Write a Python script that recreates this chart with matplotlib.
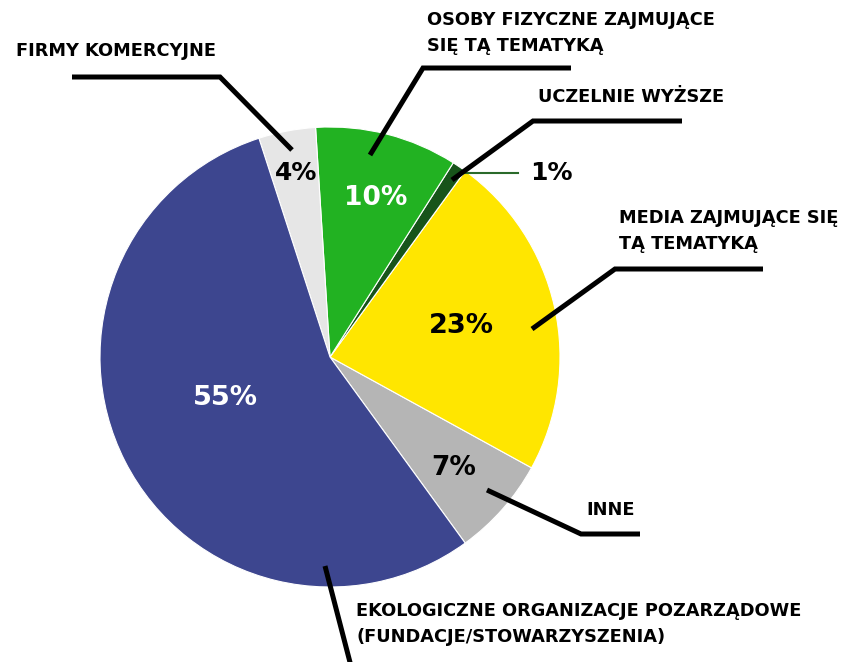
import matplotlib
matplotlib.use("Agg")
import matplotlib.pyplot as plt

# data, in drawing order (counterclockwise from the lower right)
labels = ["INNE", "MEDIA ZAJMUJĄCE SIĘ\nTĄ TEMATYKĄ", "UCZELNIE WYŻSZE",
          "OSOBY FIZYCZNE ZAJMUJĄCE\nSIĘ TĄ TEMATYKĄ", "FIRMY KOMERCYJNE",
          "EKOLOGICZNE ORGANIZACJE POZARZĄDOWE\n(FUNDACJE/STOWARZYSZENIA)"]
values = [7, 23, 1, 10, 4, 55]
colors = ["#b5b5b5", "#ffe600", "#17541a", "#22b222", "#e6e6e6", "#3d468f"]
pct_colors = ["black", "black", "black", "white", "black", "white"]

W, H = 852, 662
fig = plt.figure(figsize=(W / 100, H / 100), dpi=100)
ax = fig.add_axes([0, 0, 1, 1])

def P(x, y):
    # picture pixel -> data coords
    return (x, H - y)

wedges, texts, autotexts = ax.pie(
    values, colors=colors, startangle=-54, center=P(330, 357), radius=230,
    autopct="%d%%", wedgeprops=dict(edgecolor="white", linewidth=0.8),
    frame=True)
ax.set_xlim(0, W)
ax.set_ylim(0, H)
ax.set_aspect("equal")
ax.axis("off")

font = "DejaVu Sans"

# percentage labels positions (px)
pct_pos = [(454, 468), (461, 326), (551, 173), (376, 198), (296, 173), (225, 398)]
pct_size = [19, 19.5, 18, 19, 18, 19.5]
for t, pos, c, s in zip(autotexts, pct_pos, pct_colors, pct_size):
    t.set_position(P(*pos))
    t.set_color(c)
    t.set_fontsize(s)
    t.set_fontweight("bold")
    t.set_family(font)

# thin dark green line for 1%
ax.plot(*zip(P(462, 173), P(518, 173)), color="#2a6a2a", lw=1.5)

# leader lines and category labels
leaders = [
    [(487, 490), (581, 534), (640, 534)],
    [(532, 329), (615, 269), (763, 269)],
    [(452, 180), (533, 121), (682, 121)],
    [(370, 155), (423, 68), (571, 68)],
    [(292, 150), (220, 77), (72, 77)],
    [(325, 566), (352, 670)],
]
label_pos = [(586, 510), (619, 231), (538, 97), (427, 33), (16, 51), (356, 624)]
for pts, lab, pos in zip(leaders, labels, label_pos):
    xs, ys = zip(*[P(*p) for p in pts])
    ax.plot(xs, ys, color="black", lw=3.6, solid_capstyle="butt",
            solid_joinstyle="miter")
    ax.text(*P(*pos), lab, ha="left", va="center", fontsize=12.8,
            fontweight="bold", family=font, linespacing=1.6)

fig.savefig("out.png", dpi=100, facecolor="white")
